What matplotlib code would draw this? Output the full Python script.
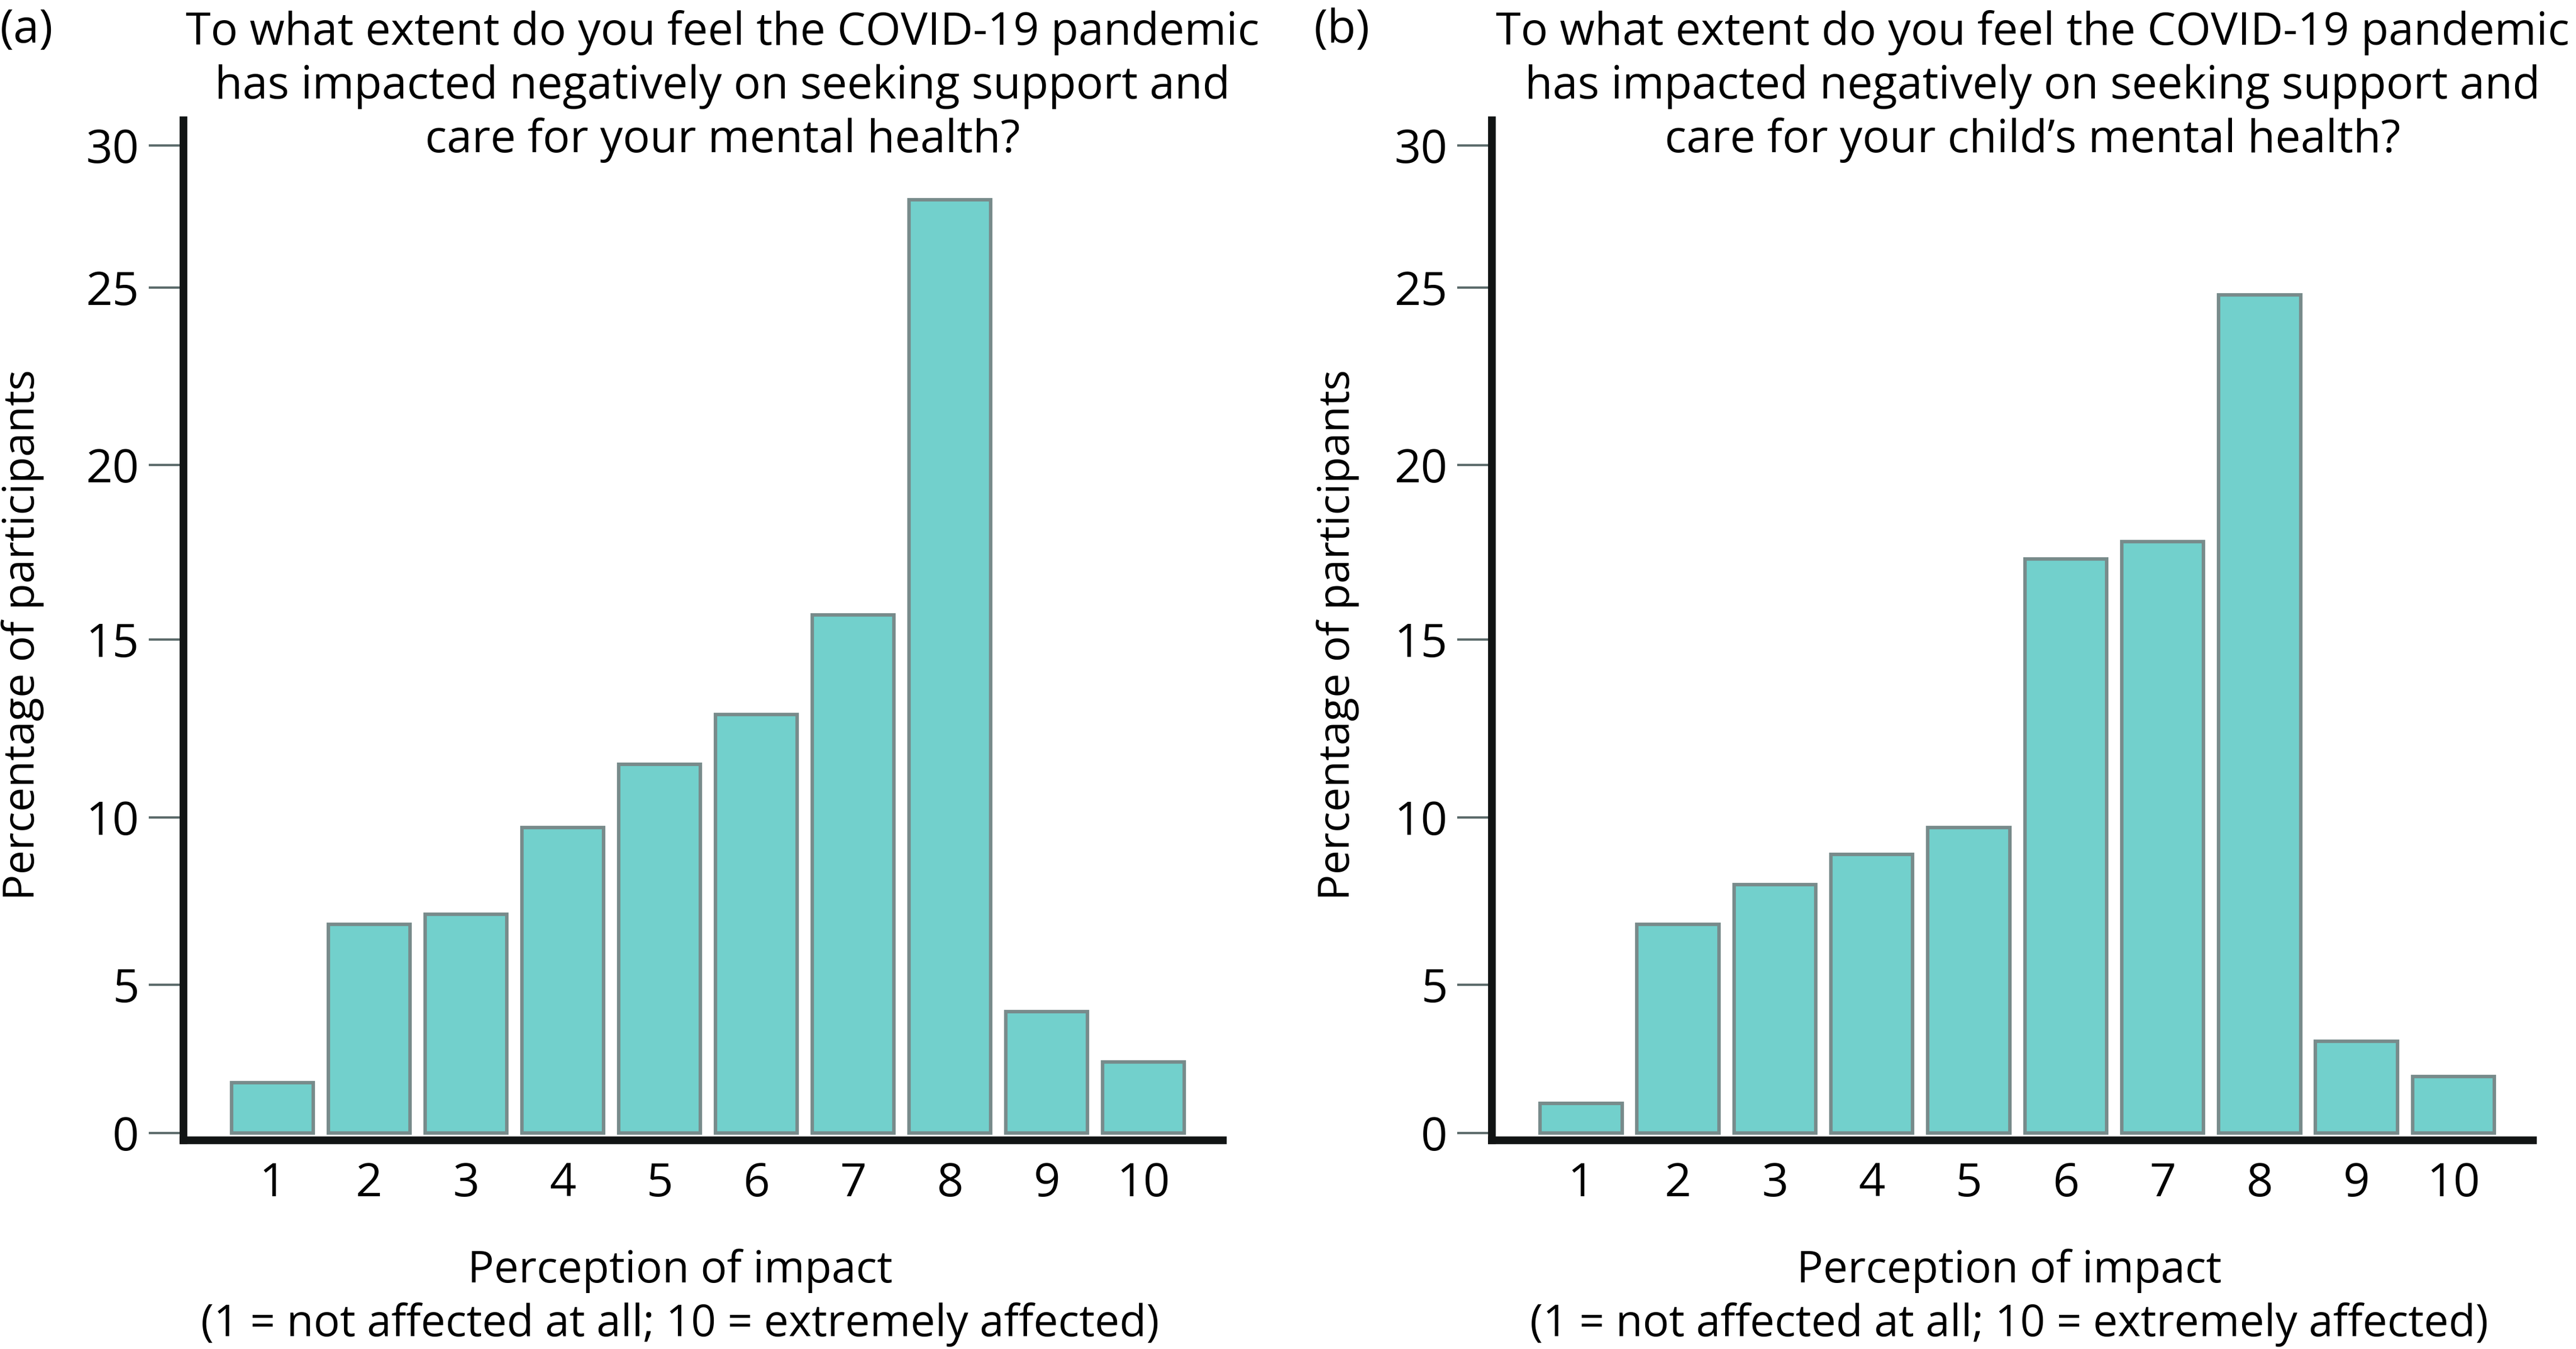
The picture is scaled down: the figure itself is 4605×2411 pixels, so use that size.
import numpy as np
import matplotlib
matplotlib.use("Agg")
import matplotlib.pyplot as plt

# ---------------- data ----------------
categories = [1, 2, 3, 4, 5, 6, 7, 8, 9, 10]
own_health = [1.7, 6.8, 7.1, 9.7, 11.5, 12.9, 15.7, 28.1, 4.1, 2.4]
child_health = [1.0, 6.8, 8.0, 8.9, 9.7, 17.3, 17.8, 24.8, 3.1, 1.9]
y_ticks = [0, 5, 10, 15, 20, 25, 30]

title_a = ["To what extent do you feel the COVID-19 pandemic",
           "has impacted negatively on seeking support and",
           "care for your mental health?"]
title_b = ["To what extent do you feel the COVID-19 pandemic",
           "has impacted negatively on seeking support and",
           "care for your child\u2019s mental health?"]
xlabel_lines = ["Perception of impact",
                "(1 = not affected at all; 10 = extremely affected)"]
ylabel = "Percentage of participants"

# ---------------- layout ----------------
W, H = 4605, 2411
DPI = 300
plt.rcParams['font.family'] = ['Open Sans', 'DejaVu Sans']
FS = 20
FS_TITLE = 19.4
FS_YLAB = 18.6
FS_XLAB = 18.8

BAR_COLOR = '#72D0CC'
BAR_EDGE = '#788B8B'
SPINE = '#111414'
TICK = '#5C6B6B'

# The original axis has unevenly spaced tick marks; reproduce them with a
# piecewise-linear scale (pixel rows of each tick, from the top of the figure)
tick_rows = np.array([2025, 1760, 1461, 1143, 831, 514, 260], float)
TV = np.array(y_ticks, float)
TP = -tick_rows


def _pw(x, xs, ys):
    x = np.asarray(x, float)
    out = np.interp(x, xs, ys)
    s0 = (ys[1] - ys[0]) / (xs[1] - xs[0])
    s1 = (ys[-1] - ys[-2]) / (xs[-1] - xs[-2])
    out = np.where(x < xs[0], ys[0] + (x - xs[0]) * s0, out)
    out = np.where(x > xs[-1], ys[-1] + (x - xs[-1]) * s1, out)
    return out


def fwd(v):
    return _pw(v, TV, TP)


def inv(t):
    return _pw(t, TP, TV)


fig = plt.figure(figsize=(W / DPI, H / DPI), dpi=DPI)

ax_bottom_px, ax_top_px = 2038, 215
panels = [
    dict(left=328, right=2186, vals=own_health, title=title_a, tcx=1292,
         xlcx=1216, tag="(a)", tagx=0, ylx=41),
    dict(left=2667, right=4528, vals=child_health, title=title_b, tcx=3634,
         xlcx=3592, tag="(b)", tagx=2349, ylx=2391),
]

for p in panels:
    ax = fig.add_axes([p['left'] / W, 1 - ax_bottom_px / H,
                       (p['right'] - p['left']) / W,
                       (ax_bottom_px - ax_top_px) / H])
    ax.set_yscale('function', functions=(fwd, inv))
    ax.bar(categories, p['vals'], width=0.845, color=BAR_COLOR,
           edgecolor=BAR_EDGE, linewidth=1.5, zorder=2)
    ax.set_xlim(0.08, 10.82)
    ax.set_ylim(float(inv(-ax_bottom_px)), float(inv(-ax_top_px)))
    ax.set_yticks(y_ticks)
    ax.set_yticklabels([str(t) for t in y_ticks])
    ax.set_xticks(categories)
    ax.set_xticklabels([str(c) for c in categories])
    for s in ['top', 'right']:
        ax.spines[s].set_visible(False)
    for s in ['left', 'bottom']:
        ax.spines[s].set_color(SPINE)
        ax.spines[s].set_linewidth(3.3)
        ax.spines[s].set_capstyle('projecting')
    ax.tick_params(axis='y', length=15, width=1.0, color=TICK, pad=4,
                   labelsize=FS, labelcolor='black')
    ax.tick_params(axis='x', length=0, pad=9, labelsize=FS,
                   labelcolor='black')
    ax.yaxis.set_minor_locator(matplotlib.ticker.NullLocator())
    ax.set_facecolor('none')

    # title lines
    for i, line in enumerate(p['title']):
        fig.text(p['tcx'] / W, 1 - (80 + 96 * i) / H, line, ha='center',
                 va='baseline', fontsize=FS_TITLE, color='black')
    fig.text(p['tagx'] / W, 1 - 76 / H, p['tag'], ha='left', va='baseline',
             fontsize=FS, color='black')
    # x label
    for i, line in enumerate(xlabel_lines):
        fig.text(p['xlcx'] / W, 1 - (2292 + 96 * i) / H, line, ha='center',
                 va='baseline', fontsize=FS_XLAB, color='black')
    # y label
    fig.text(p['ylx'] / W, 1 - 1135 / H, ylabel, rotation=90, ha='center',
             va='center', fontsize=FS_YLAB, color='black')

fig.savefig('out.png', dpi=DPI, facecolor='white')
